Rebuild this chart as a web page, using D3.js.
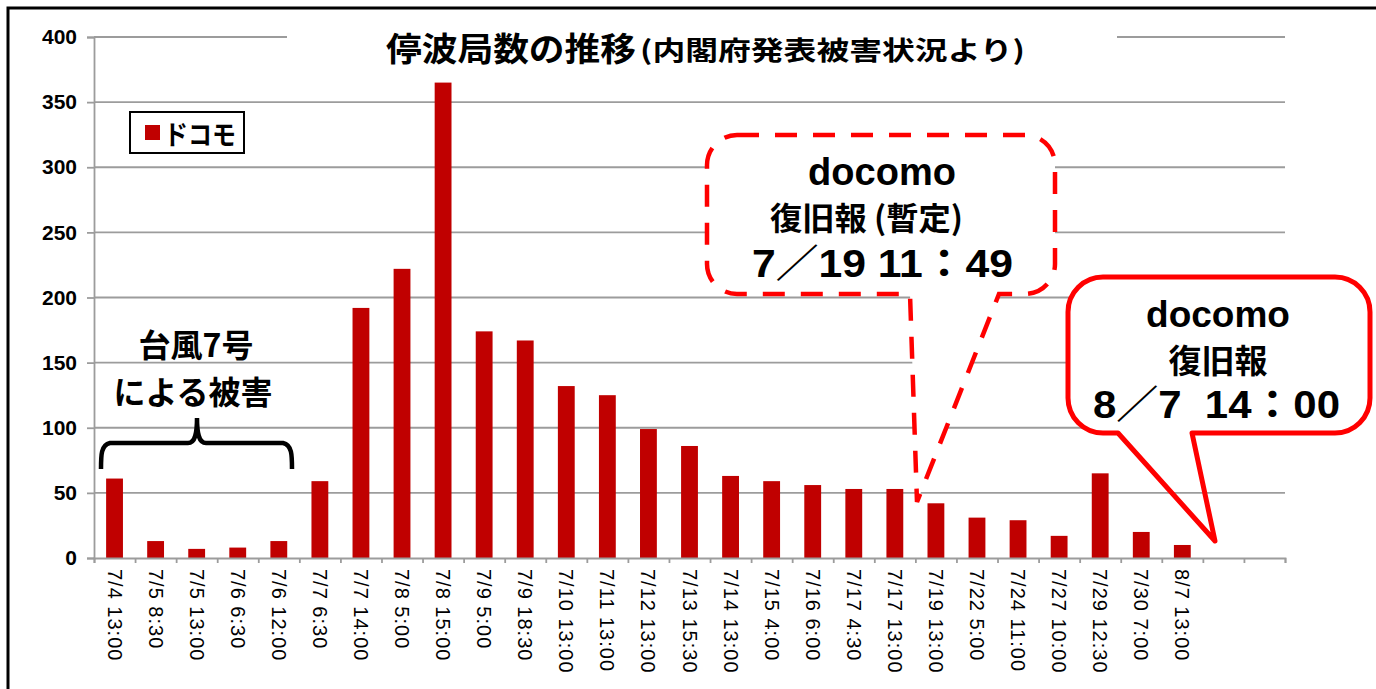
<!DOCTYPE html>
<html><head><meta charset="utf-8">
<script src="https://cdn.jsdelivr.net/npm/d3@7/dist/d3.min.js"></script>
<style>body{margin:0;background:#fff;overflow:hidden}</style>
</head><body>
<svg id="c" width="1376" height="689"></svg>
<script>
const categories = ["7/4 13:00","7/5 8:30","7/5 13:00","7/6 6:30","7/6 12:00","7/7 6:30","7/7 14:00","7/8 5:00","7/8 15:00","7/9 5:00","7/9 18:30","7/10 13:00","7/11 13:00","7/12 13:00","7/13 15:30","7/14 13:00","7/15 4:00","7/16 6:00","7/17 4:30","7/17 13:00","7/19 13:00","7/22 5:00","7/24 11:00","7/27 10:00","7/29 12:30","7/30 7:00","8/7 13:00","",""];
const docomoValues = [61,13,7,8,13,59,192,222,365,174,167,132,125,99,86,63,59,56,53,53,42,31,29,17,65,20,10];
const yTicks = [0,50,100,150,200,250,300,350,400];
const seriesName = "ドコモ";
const titleMain = "停波局数の推移";
const titleSub = "(内閣府発表被害状況より)";
const typhoonLines = ["台風7号","による被害"];
const callout1Lines = ["docomo","復旧報 (暫定)","7／19 11：49"];
const callout2Lines = ["docomo","復旧報","8／7\u00a0\u00a014：00"];

const svg = d3.select("#c");
const JP = "'Noto Sans CJK JP','Noto Sans',sans-serif";
const LAT = "'Liberation Sans',Arial,'Noto Sans CJK JP',sans-serif";

const x0 = 94, x1 = 1285, yTop = 37, yBot = 558;
const idx = d3.range(categories.length);
const x = d3.scaleBand().domain(idx).range([x0, x1]).paddingInner(0.59).paddingOuter(0.295);
const xLin = d3.scaleLinear().domain([0, categories.length]).range([x0, x1]);
const y = d3.scaleLinear().domain([0, 400]).range([yBot, yTop]);

// outer frame
svg.append("rect").attr("x",8).attr("y",8).attr("width",1420).attr("height",720)
  .attr("fill","none").attr("stroke","#000").attr("stroke-width",3);

// gridlines
svg.append("g").selectAll("line").data(yTicks.filter(d=>d>0)).join("line")
  .attr("x1",x0).attr("x2",x1).attr("y1",d=>y(d)).attr("y2",d=>y(d))
  .attr("stroke","#9c9c9c").attr("stroke-width",1.8);

// bars
svg.append("g").selectAll("rect").data(docomoValues).join("rect")
  .attr("x",(d,i)=>x(i)).attr("width",x.bandwidth())
  .attr("y",d=>y(d)).attr("height",d=>y(0)-y(d))
  .attr("fill","#c00000");

// y axis
const ya = svg.append("g").attr("transform",`translate(${x0},0)`)
  .call(d3.axisLeft(y).tickValues(yTicks).tickSize(7).tickPadding(10));
ya.selectAll("path,line").attr("stroke","#9c9c9c").attr("stroke-width",1.8);
ya.selectAll("text").attr("font-family",LAT).attr("font-size",21).attr("font-weight","bold").attr("fill","#000");

// x axis (tick marks at category boundaries)
const xa = svg.append("g").attr("transform",`translate(0,${yBot})`)
  .call(d3.axisBottom(xLin).tickValues(d3.range(categories.length+1)).tickSize(5).tickFormat(""));
xa.selectAll("path,line").attr("stroke","#9c9c9c").attr("stroke-width",1.8);

// x labels
svg.append("g").selectAll("text").data(idx).join("text")
  .attr("transform",i=>`translate(${x(i)+x.bandwidth()/2},569) rotate(90)`)
  .attr("dy","0.35em").attr("text-anchor","start")
  .attr("font-family",LAT).attr("font-size",20).attr("letter-spacing",1)
  .attr("fill","#000").text(i=>categories[i]);

// title
svg.append("rect").attr("x",287).attr("y",20).attr("width",830).attr("height",50).attr("fill","#fff");
svg.append("text").attr("x",386).attr("y",61).attr("font-family",JP).attr("font-weight","bold")
  .attr("font-size",33).attr("textLength",250).attr("lengthAdjust","spacingAndGlyphs").text(titleMain);
svg.append("text").attr("x",640).attr("y",60).attr("font-family",JP).attr("font-weight","bold")
  .attr("font-size",26).attr("textLength",385).attr("lengthAdjust","spacingAndGlyphs").text(titleSub);

// legend
svg.append("rect").attr("x",130).attr("y",112).attr("width",114).attr("height",41)
  .attr("fill","#fff").attr("stroke","#000").attr("stroke-width",2);
svg.append("rect").attr("x",145).attr("y",125).attr("width",15).attr("height",15).attr("fill","#c00000");
svg.append("text").attr("x",164).attr("y",145).attr("font-family",JP).attr("font-weight","bold")
  .attr("font-size",27).attr("textLength",72).attr("lengthAdjust","spacingAndGlyphs").text(seriesName);

// typhoon annotation
svg.append("text").attr("x",196).attr("y",357).attr("text-anchor","middle").attr("font-family",JP)
  .attr("font-weight","bold").attr("font-size",32).text(typhoonLines[0]);
svg.append("text").attr("x",193).attr("y",404).attr("text-anchor","middle").attr("font-family",JP)
  .attr("font-weight","bold").attr("font-size",32).text(typhoonLines[1]);
svg.append("path")
  .attr("d","M101,469 C101,455 101,445 110,443 H188 C195,443 197,434 197,418 C197,434 199,443 206,443 H283 C292,445 292,455 292,469")
  .attr("fill","none").attr("stroke","#000").attr("stroke-width",4.5);

// callout 1 (dashed)
svg.append("path")
  .attr("d","M737,135 H1025 A30,30 0 0 1 1055,165 V264 A30,30 0 0 1 1025,294 H999 L917,502 L910,294 H737 A30,30 0 0 1 707,264 V165 A30,30 0 0 1 737,135 Z")
  .attr("fill","#fff").attr("stroke","#ff0000").attr("stroke-width",4.5)
  .attr("stroke-dasharray","22,16");
svg.append("text").attr("x",882).attr("y",185).attr("text-anchor","middle").attr("font-family",LAT)
  .attr("font-weight","bold").attr("font-size",38).text(callout1Lines[0]);
svg.append("text").attr("x",770).attr("y",230).attr("font-family",JP)
  .attr("font-weight","bold").attr("font-size",32).attr("textLength",193).attr("lengthAdjust","spacingAndGlyphs").text(callout1Lines[1]);
svg.append("text").attr("x",752).attr("y",277).attr("font-family",LAT)
  .attr("font-weight","bold").attr("font-size",39).attr("textLength",261).attr("lengthAdjust","spacingAndGlyphs").text(callout1Lines[2]);

// callout 2 (solid)
svg.append("rect").attr("x",1068).attr("y",277).attr("width",302).attr("height",156).attr("rx",35).attr("fill","#fff");
svg.append("path")
  .attr("d","M1103,277 H1335 A35,35 0 0 1 1370,312 V398 A35,35 0 0 1 1335,433 H1192 L1215,541 L1118,433 H1103 A35,35 0 0 1 1068,398 V312 A35,35 0 0 1 1103,277 Z")
  .attr("fill","none").attr("stroke","#ff0000").attr("stroke-width",5).attr("stroke-linejoin","round");
svg.append("text").attr("x",1218).attr("y",327).attr("text-anchor","middle").attr("font-family",LAT)
  .attr("font-weight","bold").attr("font-size",37).text(callout2Lines[0]);
svg.append("text").attr("x",1218).attr("y",373).attr("text-anchor","middle").attr("font-family",JP)
  .attr("font-weight","bold").attr("font-size",33).text(callout2Lines[1]);
svg.append("text").attr("x",1093).attr("y",418).attr("font-family",LAT)
  .attr("font-weight","bold").attr("font-size",39).attr("textLength",247).attr("lengthAdjust","spacingAndGlyphs").text(callout2Lines[2]);
</script>
</body></html>
